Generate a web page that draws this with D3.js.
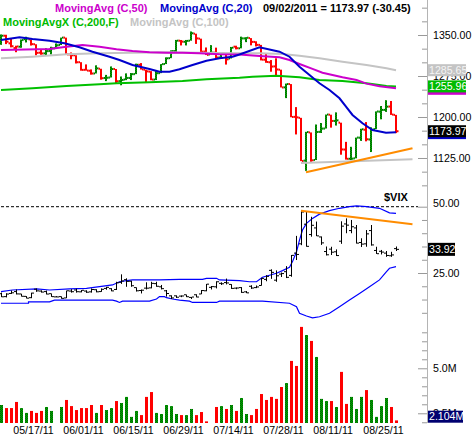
<!DOCTYPE html>
<html><head><meta charset="utf-8">
<script src="https://cdn.jsdelivr.net/npm/d3@7"></script>
<style>
body{margin:0;background:#fff}
svg{display:block}
text{font-family:"Liberation Sans",Arial,sans-serif}
</style>
</head><body>
<svg id="c" width="473" height="437"></svg>
<script>
// ---------- DATA ----------
const dates = ["05/12/11","05/13/11","05/16/11","05/17/11","05/18/11","05/19/11","05/20/11","05/23/11","05/24/11","05/25/11","05/26/11","05/27/11","05/31/11",
"06/01/11","06/02/11","06/03/11","06/06/11","06/07/11","06/08/11","06/09/11","06/10/11","06/13/11","06/14/11","06/15/11","06/16/11","06/17/11","06/20/11","06/21/11","06/22/11","06/23/11","06/24/11","06/27/11","06/28/11","06/29/11","06/30/11",
"07/01/11","07/05/11","07/06/11","07/07/11","07/08/11","07/11/11","07/12/11","07/13/11","07/14/11","07/15/11","07/18/11","07/19/11","07/20/11","07/21/11","07/22/11","07/25/11","07/26/11","07/27/11","07/28/11","07/29/11",
"08/01/11","08/02/11","08/03/11","08/04/11","08/05/11","08/08/11","08/09/11","08/10/11","08/11/11","08/12/11","08/15/11","08/16/11","08/17/11","08/18/11","08/19/11","08/22/11","08/23/11","08/24/11","08/25/11","08/26/11","08/29/11","08/30/11","08/31/11",
"09/01/11","09/02/11"];
const dateLabels = ["05/17/11","06/01/11","06/15/11","06/29/11","07/14/11","07/28/11","08/11/11","08/25/11"];

const prevClose = 1342.08;
const open = [1339.39,1348.69,1334.77,1326.10,1328.54,1342.40,1342.00,1333.07,1317.70,1316.36,1320.64,1325.69,1331.72,
1345.20,1314.55,1312.94,1300.26,1286.31,1284.63,1279.63,1288.26,1271.31,1272.22,1287.87,1265.53,1268.58,1271.50,1278.40,1295.48,1286.60,1283.04,1268.44,1280.21,1296.85,1307.64,
1320.64,1339.59,1337.56,1339.62,1352.39,1343.31,1319.61,1314.45,1317.74,1308.87,1315.94,1307.07,1328.66,1325.65,1343.80,1344.32,1337.39,1331.91,1304.84,1300.12,
1292.59,1286.56,1254.25,1260.23,1200.28,1198.48,1120.23,1171.77,1121.30,1172.87,1178.86,1204.22,1192.89,1189.62,1140.47,1123.55,1124.36,1162.16,1176.69,1158.85,1177.91,1209.76,1213.00,
1219.12,1203.90];
const high = [1351.05,1350.47,1343.33,1330.42,1341.82,1346.82,1342.00,1333.07,1323.72,1325.86,1328.51,1334.62,1345.20,
1345.20,1318.03,1312.94,1300.26,1296.22,1287.04,1294.54,1288.26,1277.04,1292.50,1287.87,1274.11,1279.82,1280.42,1297.62,1298.61,1286.60,1283.93,1284.91,1296.80,1309.21,1321.97,
1341.01,1340.89,1340.94,1356.48,1352.39,1343.31,1327.17,1331.48,1326.88,1317.70,1315.94,1328.14,1330.43,1347.00,1346.10,1344.32,1338.51,1331.91,1316.32,1304.16,
1307.38,1286.58,1261.20,1260.23,1218.11,1198.48,1172.88,1171.77,1186.29,1189.04,1204.49,1204.22,1208.47,1189.62,1154.54,1145.49,1162.35,1178.56,1190.68,1181.23,1210.28,1220.10,1230.71,
1229.29,1203.90];
const low = [1332.03,1333.36,1327.32,1318.51,1326.59,1336.36,1330.67,1312.88,1313.87,1311.80,1314.41,1325.69,1331.72,
1313.71,1305.61,1297.90,1284.72,1284.74,1277.42,1279.63,1268.28,1265.64,1272.22,1261.90,1258.07,1267.40,1267.56,1278.40,1286.79,1262.87,1267.24,1267.53,1280.21,1296.85,1307.64,
1318.18,1330.92,1330.92,1339.62,1333.71,1316.42,1313.33,1314.45,1306.51,1307.35,1295.92,1307.07,1323.65,1325.65,1336.95,1331.09,1329.10,1303.49,1299.16,1282.86,
1274.73,1254.03,1234.56,1199.54,1168.09,1119.28,1101.54,1118.01,1121.30,1170.74,1178.86,1180.53,1184.36,1131.03,1122.05,1121.09,1124.36,1156.30,1155.47,1135.91,1177.91,1195.77,1209.35,
1203.85,1170.56];
const close = [1348.65,1337.77,1329.47,1328.98,1340.68,1343.60,1333.27,1317.37,1316.28,1320.47,1325.69,1331.10,1345.20,
1314.55,1312.94,1300.16,1286.17,1284.94,1279.56,1289.00,1270.98,1271.83,1287.87,1265.42,1267.64,1271.50,1278.36,1295.52,1287.14,1283.50,1268.45,1280.10,1296.67,1307.41,1320.64,
1339.67,1337.88,1339.22,1353.22,1343.80,1319.49,1313.64,1317.72,1308.87,1316.14,1305.44,1326.73,1325.84,1343.80,1345.02,1337.43,1331.94,1304.89,1300.67,1292.28,
1286.94,1254.05,1260.34,1200.07,1199.38,1119.46,1172.53,1120.76,1172.64,1178.81,1204.49,1192.76,1193.89,1140.65,1123.53,1123.82,1162.35,1177.60,1159.27,1176.80,1210.08,1212.92,1218.89,
1204.42,1173.97];

// volume in millions
const volume = [2.96,2.79,2.79,3.13,2.79,2.52,2.63,2.52,2.63,2.85,2.63,1.90,2.85,
3.24,2.90,2.68,2.79,2.79,2.96,2.52,2.96,2.68,2.79,3.18,3.07,3.41,2.30,2.63,2.40,3.41,3.68,2.52,2.46,2.96,2.90,
2.46,2.40,2.40,2.74,2.40,2.57,2.05,1.90,2.85,2.90,2.74,2.96,2.63,3.35,2.46,2.40,2.74,3.57,3.24,3.41,
3.30,3.96,4.18,5.41,5.13,7.30,6.85,6.52,5.63,3.30,3.18,3.18,2.85,4.80,3.02,3.41,2.74,3.41,3.79,3.24,2.30,2.90,3.35,
2.85,2.104];

const vixOpen = [17.20,16.10,17.30,18.00,17.10,16.20,15.70,18.90,18.20,18.00,17.20,16.00,16.10,
15.60,18.20,18.60,17.90,18.20,17.90,18.70,18.00,19.20,19.10,18.80,21.50,22.50,21.90,19.50,18.40,19.30,19.40,21.00,19.80,18.30,16.40,
16.40,16.30,16.80,15.80,16.80,17.10,18.30,19.60,19.80,21.10,21.40,20.70,19.30,19.50,17.90,20.00,19.50,20.30,22.60,26.00,
22.30,24.60,25.50,24.10,32.50,36.00,43.40,39.50,42.00,38.60,33.10,34.00,33.00,37.00,43.50,41.00,42.00,36.50,36.00,41.00,33.50,33.20,32.50,
31.50,34.20];
const vixHigh = [17.60,17.40,18.40,18.80,17.20,16.30,17.60,19.20,18.50,18.40,17.30,16.30,16.20,
18.40,18.90,19.10,18.60,18.50,19.20,18.90,19.20,19.80,19.30,21.70,24.50,23.00,22.10,19.60,18.80,21.50,21.70,21.70,20.50,18.60,16.60,
16.60,16.60,16.90,16.00,17.00,18.60,20.90,20.10,21.90,21.50,22.90,20.80,19.60,19.70,18.20,20.40,20.30,23.20,24.20,26.40,
26.00,25.20,27.60,31.80,39.00,48.70,48.00,46.20,44.40,38.80,35.00,34.90,33.90,44.50,45.60,45.00,43.10,38.10,41.20,43.10,34.90,33.70,33.30,
33.00,35.00];
const vixLow = [15.90,15.80,17.10,16.90,16.10,15.40,15.50,17.90,17.60,16.90,16.00,15.80,15.30,
15.50,17.60,17.60,17.70,17.50,17.60,17.70,17.90,18.70,18.10,18.60,20.90,19.80,19.80,18.00,17.30,18.80,19.20,19.80,18.80,16.10,15.20,
15.60,15.90,15.90,15.20,15.80,17.00,18.10,18.80,19.20,20.50,20.70,19.00,18.90,17.50,17.40,19.00,19.30,20.20,21.90,22.80,
21.70,23.50,23.10,23.60,29.90,35.50,34.90,38.70,38.90,35.60,31.60,31.80,31.40,36.00,40.00,40.00,36.10,34.80,34.90,35.30,32.20,32.00,31.10,
31.10,33.30];
const vixClose = [16.03,17.07,17.54,17.12,16.23,15.52,17.43,18.27,17.82,17.07,16.09,15.98,15.45,
18.30,17.95,17.95,18.49,17.77,18.79,17.91,18.86,19.61,18.26,21.32,22.00,21.85,20.20,18.30,18.52,19.29,21.10,20.00,19.10,17.27,15.60,
15.87,16.34,16.06,15.95,15.95,18.39,20.80,19.87,21.70,20.95,21.26,19.21,19.35,17.71,17.52,19.33,19.74,22.98,23.74,25.25,
23.95,24.79,23.38,31.66,32.00,48.00,35.06,42.99,39.00,36.36,31.87,32.85,31.58,42.67,43.05,42.44,36.27,35.90,39.76,35.59,32.28,32.89,31.62,
31.82,33.92];

// overlays: [bar index, value]
const ma20 = [[0,1341],[3.7,1345.8],[6.3,1342.7],[9.7,1339.6],[12.7,1334.8],[15.7,1327.5],[18.3,1319.5],[21.7,1310.3],[23.7,1304.3],[26.3,1295.1],[29.7,1287.8],[31.7,1283],[33.7,1283],[35.7,1287.3],[38.3,1295.1],[41.1,1303],[43.7,1307.4],[46.3,1310.3],[47.7,1314.3],[51.7,1327.5],[55.7,1319.5],[57.7,1310.3],[59.7,1292],[61.7,1276.8],[63.7,1261.7],[65.7,1249.4],[67.7,1234.2],[69,1218.9],[70.3,1203.7],[72.3,1188.5],[74.3,1176.2],[77,1171.3],[79,1171.98]];
const ma50 = [[0,1322.6],[9.7,1324.4],[13.1,1328.6],[16.3,1331.7],[19.7,1328.6],[23.1,1323.8],[26.3,1320.7],[29.7,1318.4],[33.1,1317.6],[36.3,1317.6],[39.7,1316.5],[43.7,1314.7],[47.7,1314.3],[51.7,1311.6],[55.7,1309.2],[57.7,1304.3],[59.7,1297],[62.3,1288],[64.3,1281],[66.3,1277],[68.3,1272.6],[71.1,1267.7],[73.1,1261],[75.7,1256.4],[79,1252.5]];
const ema200 = [[0,1249.4],[6.3,1252.5],[13.1,1256.7],[19.7,1259.8],[23.1,1261.7],[29.7,1263.5],[36.3,1265.9],[41.1,1269],[47.7,1271.9],[50.3,1273.7],[55.1,1275.6],[59.7,1272.6],[63.7,1267.7],[68.3,1265.9],[73.1,1261.7],[77.1,1256.7],[79,1255.96]];
const ma100 = [[0,1307.4],[6.3,1310.3],[13.1,1314.7],[19.7,1316.5],[26.3,1317.6],[33.1,1318.4],[39.7,1317.6],[47.7,1316.5],[51.7,1316.5],[56.3,1315.2],[59.7,1312.1],[63.7,1307.4],[68.3,1301.2],[73.1,1295.1],[77.1,1289.1],[79,1285.65]];
const bbUpper = [[0,17.95],[2.3,18.6],[7.1,19.0],[9.7,18.6],[13.7,19.0],[17.1,19.2],[22.3,20.5],[23.7,21.7],[25.1,22.1],[26.3,22.4],[31.7,22.4],[35.7,22.6],[40.3,22.6],[41.1,23.0],[43.1,23.0],[43.7,22.4],[47.7,22.1],[49.7,21.7],[51.1,21.7],[52.3,23.4],[55.1,24.9],[56.3,25.9],[57.7,27.2],[58.3,29.3],[59.1,33.0],[59.7,37.4],[60.3,41.2],[61.1,43.7],[62.3,45.6],[63.7,47.2],[65.7,48.5],[67.7,49.4],[69.7,50.0],[71.1,50.3],[73.1,50.0],[75.7,49.4],[77.7,47.7],[79,47.5]];
const bbLower = [[0,13.6],[5.5,13.6],[5.5,14.1],[9.7,14.1],[10.7,14.8],[22.3,14.8],[23.1,14.4],[23.7,13.9],[24.3,14.4],[29.7,14.4],[31.1,15.2],[31.7,16.1],[32.7,16.1],[33.1,15.7],[34.3,15.2],[35.7,14.8],[37.7,14.4],[38.3,13.9],[43.1,13.9],[43.7,14.4],[52.3,14.4],[57.7,13.6],[59.1,12.3],[59.7,9.8],[61.1,8.8],[62.3,8.1],[63.7,8.5],[65.7,9.8],[67.7,12.3],[69.7,14.8],[71.7,17.3],[73.7,19.8],[75.7,22.4],[77.1,25.5],[77.7,26.8],[79,27.4]];
const priceTrend = [[61,1099],[82.3,1142.8]];
const priceSupport = [[60,1116],[82.3,1122.7]];
const vixTrend = [[60,48.5],[82.3,43.4]];
const vixRefLevel = 50;

const priceTicks = [1075,1100,1125,1150,1175,1200,1225,1250,1275,1300,1325,1350,1375,1400];
const priceLabels = [1125,1200,1275,1350];
const vixTicks = [10,15,20,25,30,35,40,45,50];
const vixLabels = [25,50];
const volTicks = [2.0,2.5,3.0,3.5,4.0,4.5,5.0,5.5,6.0,6.5,7.0];
const volLabels = [2.5,5.0];

const legendRow1 = [["MovingAvg (C,50)","#cc00cc",55],["MovingAvg (C,20)","#0000cc",160],["09/02/2011 = 1173.97 (-30.45)","#000",263]];
const legendRow2 = [["MovingAvgX (C,200,F)","#00bb00",3],["MovingAvg (C,100)","#c4c4c4",130]];

// ---------- DRAW ----------
const svg = d3.select("#c");
svg.append("rect").attr("width",473).attr("height",437).attr("fill","#fff");
const defs = svg.append("defs");
const pat = defs.append("pattern").attr("id","dither").attr("width",2).attr("height",2).attr("patternUnits","userSpaceOnUse");
pat.append("rect").attr("width",2).attr("height",2).attr("fill","#006400");
pat.append("rect").attr("x",0).attr("y",0).attr("width",1).attr("height",1).attr("fill","#00aa00");
pat.append("rect").attr("x",1).attr("y",1).attr("width",1).attr("height",1).attr("fill","#00aa00");
const GREEN = "url(#dither)", RED = "#ff0000";

const N = dates.length;
const x = d3.scaleLinear().domain([0, N-1]).range([1, 1 + 5*(N-1)]);
const yP = d3.scaleLinear().domain([1075, 1400]).range([185.33, 7.67]);
const yV = d3.scaleLinear().domain([10, 50]).range([312.8, 206.7]);
const yVol = d3.scaleLinear().domain([1.96, 7.5]).range([423, 323.3]);
const axisX = 428;

const up = close.map((c,i) => c >= (i === 0 ? prevClose : close[i-1]));

// volume bars
svg.append("g").selectAll("rect").data(volume).join("rect")
  .attr("x", (d,i) => x(i) - 1).attr("width", 3)
  .attr("y", d => Math.min(yVol(d), yVol(1.96)))
  .attr("height", d => Math.max(0, yVol(1.96) - yVol(d)))
  .attr("fill", (d,i) => up[i] ? GREEN : RED);

// price OHLC bars
const pb = svg.append("g");
d3.range(N).forEach(i => {
  const col = up[i] ? GREEN : RED;
  const top = yP(high[i]), bot = yP(low[i]);
  pb.append("rect").attr("x", x(i)-1).attr("width",2).attr("y", top).attr("height", Math.max(1.5, bot-top)).attr("fill", col);
  pb.append("rect").attr("x", x(i)-2.5).attr("width",1.5).attr("y", yP(open[i])-1).attr("height",2).attr("fill", col);
  pb.append("rect").attr("x", x(i)+1).attr("width",1.5).attr("y", yP(close[i])-1).attr("height",2).attr("fill", col);
});

// overlays
const lineP = d3.line().x(d => x(d[0])).y(d => yP(d[1]));
const lineV = d3.line().x(d => x(d[0])).y(d => yV(d[1]));
function path(data, gen, color, w, dash) {
  const p = svg.append("path").datum(data).attr("d", gen).attr("fill","none").attr("stroke", color).attr("stroke-width", w);
  if (dash) p.attr("stroke-dasharray", dash);
  return p;
}
path(ma100, lineP, "#c4c4c4", 2);
path(ema200, lineP, "#00c000", 2);
path(ma50, lineP, "#cc00cc", 2);
path(ma20, lineP, "#0000cc", 2);
path(priceSupport, lineP, "#c4c4c4", 2);
path(priceTrend, lineP, "#ff8c00", 2);

// VIX panel
path([[0, vixRefLevel],[83.4, vixRefLevel]], lineV, "#000", 1, "3,2");
path(bbUpper, lineV, "#0000ff", 1.2);
path(bbLower, lineV, "#0000ff", 1.2);
const vb = svg.append("g").attr("fill","#000");
d3.range(N).forEach(i => {
  const top = yV(vixHigh[i]), bot = yV(vixLow[i]);
  vb.append("rect").attr("x", x(i)).attr("width",1).attr("y", top).attr("height", Math.max(1, bot-top));
  vb.append("rect").attr("x", x(i)-2).attr("width",2).attr("y", yV(vixOpen[i])-0.5).attr("height",1);
  vb.append("rect").attr("x", x(i)+1).attr("width",2).attr("y", yV(vixClose[i])-0.5).attr("height",1);
});
path(vixTrend, lineV, "#ff8c00", 2);
svg.append("text").attr("x",384).attr("y",201).attr("font-size","11px").attr("font-weight","bold").attr("fill","#000").text("$VIX");

// right axis
svg.append("line").attr("x1",axisX-0.5).attr("x2",axisX-0.5).attr("y1",0).attr("y2",423).attr("stroke","#b4b4b4");
function axis(scale, tickVals, labelVals, fmt) {
  const g = svg.append("g").attr("transform",`translate(${axisX-1},0)`)
    .call(d3.axisLeft(scale).tickValues(tickVals).tickSize(5).tickFormat(""));
  g.select(".domain").remove();
  g.selectAll(".tick line").attr("stroke","#999").attr("x2", d => labelVals.includes(d) ? -9 : -5);
  const gl = svg.append("g").attr("transform",`translate(${axisX},0)`)
    .call(d3.axisRight(scale).tickValues(labelVals).tickSize(0).tickPadding(5).tickFormat(fmt));
  gl.select(".domain").remove();
  gl.attr("font-family","Liberation Sans, Arial, sans-serif").attr("font-size","10.6px");
  gl.selectAll("text").attr("fill","#000");
  return gl;
}
axis(yP, priceTicks, priceLabels, d3.format(".2f"));
const gv = axis(yV, vixTicks, vixLabels, d3.format(".2f"));
gv.selectAll(".tick text").filter(d => d === 50).attr("dy","-0.05em");
axis(yVol, volTicks, volLabels, d => d.toFixed(1) + "M");

// value tags (tags fully hidden in the reference are drawn as boxes only)
function tag(y, txt, bg, fg, w, h, top) {
  const yy = top !== undefined ? top : y - h/2;
  svg.append("rect").attr("x", axisX).attr("y", yy).attr("width", w).attr("height", h).attr("fill", bg);
  if (txt) svg.append("text").attr("x", axisX+1).attr("y", yy + h - 2.5).attr("font-size","10.6px").attr("fill", fg).text(txt);
}
const last = a => a[a.length-1][1];
tag(yP(last(ma50))+0.5, null, "#cc00cc", "#fff", 38, 12);
tag(yP(last(ma20))+0.8, null, "#0000cc", "#fff", 38, 12);
tag(yP(last(ma100)), last(ma100).toFixed(2), "#c4c4c4", "#f4f4f4", 38, 12);
tag(yP(last(ema200)), last(ema200).toFixed(2), "#00bb00", "#fff", 38, 12);
tag(yP(close[N-1]), close[N-1].toFixed(2), "#000", "#fff", 38, 12);
tag(yV(vixClose[N-1]), vixClose[N-1].toFixed(2), "#000", "#fff", 27, 13);
tag(yVol(volume[N-1]), volume[N-1].toFixed(3) + "M", "#000070", "#fff", 35, 12, Math.min(yVol(volume[N-1]) - 6, 423 - 12.3));

// x labels
svg.append("g").selectAll("text").data(dateLabels).join("text")
  .attr("x", d => x(dates.indexOf(d)) - 2.7).attr("y", 434)
  .attr("font-size","10.6px").attr("fill","#000").text(d => d);

// legend
svg.append("g").selectAll("text").data(legendRow1).join("text")
  .attr("x", d => d[2]).attr("y", 11.5).attr("font-size","11px").attr("font-weight","bold")
  .attr("fill", d => d[1]).text(d => d[0]);
svg.append("g").selectAll("text").data(legendRow2).join("text")
  .attr("x", d => d[2]).attr("y", 25.5).attr("font-size","11px").attr("font-weight","bold")
  .attr("fill", d => d[1]).text(d => d[0]);
</script>
</body></html>
